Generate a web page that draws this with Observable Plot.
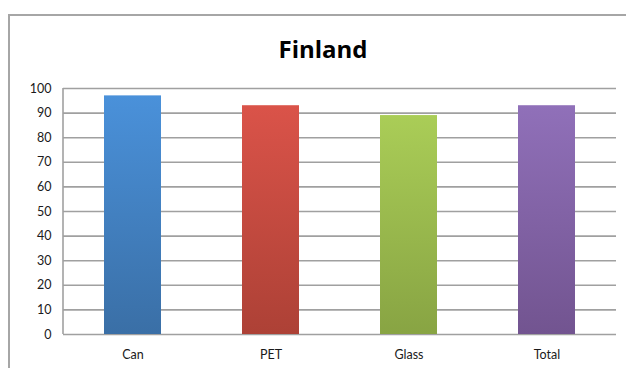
<!DOCTYPE html>
<html>
<head>
<meta charset="utf-8">
<script src="https://cdn.jsdelivr.net/npm/d3@7"></script>
<script src="https://cdn.jsdelivr.net/npm/@observablehq/plot@0.6"></script>
<style>
  html, body { margin: 0; padding: 0; background: #fff; }
  #wrap { position: relative; width: 626px; height: 368px; overflow: hidden; }
  #frame { position: absolute; left: 8px; top: 14px; width: 660px; height: 400px;
           border: 2px solid #a6a6a6; box-sizing: border-box; }
  #chart { position: absolute; left: 0; top: 0; }
</style>
</head>
<body>
<div id="wrap">
  <div id="frame"></div>
  <div id="chart"></div>
</div>
<script>
// Collection rates by container type
const categories = ["Can", "PET", "Glass", "Total"];
const values = [97, 93, 89, 93];
const yTicks = [0, 10, 20, 30, 40, 50, 60, 70, 80, 90, 100];

// Vertical gradient stops (top, bottom) for each bar
const gradTop = ["#4a91da", "#da5349", "#aacd57", "#9070b9"];
const gradBottom = ["#3a6fa6", "#ad4136", "#88a443", "#725490"];

const data = categories.map((c, i) => ({category: c, value: values[i], id: "g" + i}));
const svgNS = "http://www.w3.org/2000/svg";

const gradients = () => {
  const defs = document.createElementNS(svgNS, "defs");
  data.forEach((d, i) => {
    const lg = document.createElementNS(svgNS, "linearGradient");
    lg.setAttribute("id", d.id);
    lg.setAttribute("x1", "0"); lg.setAttribute("y1", "0");
    lg.setAttribute("x2", "0"); lg.setAttribute("y2", "1");
    [[0, gradTop[i]], [1, gradBottom[i]]].forEach(([o, c]) => {
      const s = document.createElementNS(svgNS, "stop");
      s.setAttribute("offset", o);
      s.setAttribute("stop-color", c);
      lg.appendChild(s);
    });
    defs.appendChild(lg);
  });
  return defs;
};

// Vertical axis line along the left edge of the plot area
const leftAxisLine = (index, scales, values, dims) => {
  const line = document.createElementNS(svgNS, "line");
  const [y0, y1] = [scales.y(0), scales.y(100)];
  line.setAttribute("x1", dims.marginLeft);
  line.setAttribute("x2", dims.marginLeft);
  line.setAttribute("y1", y0);
  line.setAttribute("y2", y1);
  line.setAttribute("stroke", "#a0a0a0");
  line.setAttribute("stroke-width", 1.6);
  return line;
};

const chart = Plot.plot({
  width: 626,
  height: 368,
  marginTop: 88,
  marginBottom: 34,
  marginLeft: 63,
  marginRight: 10,
  style: {fontFamily: "Lato, 'Open Sans', sans-serif", background: "transparent"},
  x: {domain: categories, paddingInner: 0.586, paddingOuter: 0.293, label: null},
  y: {domain: [0, 100], label: null},
  marks: [
    gradients,
    Plot.ruleY(yTicks, {stroke: "#a0a0a0", strokeWidth: 1.6}),
    leftAxisLine,
    Plot.barY(data, {x: "category", y: "value", fill: d => `url(#${d.id})`}),
    Plot.axisY({ticks: yTicks, tickSize: 0, tickPadding: 12, fontSize: 12.5, fill: "#1a1a1a", label: null}),
    Plot.axisX({tickSize: 0, tickPadding: 16, fontSize: 12.5, fill: "#1a1a1a", label: null}),
    Plot.text(["Finland"], {frameAnchor: "top", dx: -17, dy: -48, fontSize: 24, fontWeight: "bold",
      fontFamily: "'Open Sans', sans-serif", fill: "#000"})
  ]
});
document.getElementById("chart").appendChild(chart);
</script>
</body>
</html>
